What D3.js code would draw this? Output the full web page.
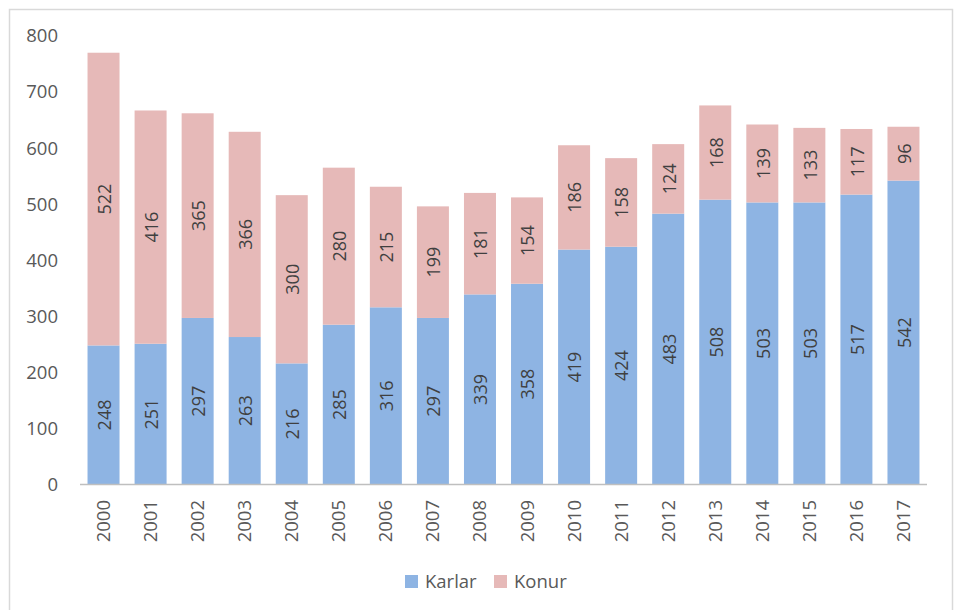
<!DOCTYPE html>
<html><head><meta charset="utf-8">
<script src="https://cdn.jsdelivr.net/npm/d3@7"></script>
<style>body{margin:0;background:#fff;}svg{display:block;font-family:"Open Sans",sans-serif;}</style>
</head><body>
<svg id="c" width="960" height="610"></svg>
<script>
const years = ["2000","2001","2002","2003","2004","2005","2006","2007","2008","2009","2010","2011","2012","2013","2014","2015","2016","2017"];
const karlar = [248,251,297,263,216,285,316,297,339,358,419,424,483,508,503,503,517,542];
const konur = [522,416,365,366,300,280,215,199,181,154,186,158,124,168,139,133,117,96];
const yTicks = [0,100,200,300,400,500,600,700,800];
const seriesNames = ["Karlar","Konur"];
const colors = ["#8EB4E3","#E6B9B8"];

const svg = d3.select("#c");
svg.append("rect").attr("x",9.5).attr("y",9.5).attr("width",943).attr("height",610)
  .attr("fill","none").attr("stroke","#d9d9d9").attr("stroke-width",1.5);

const x = d3.scaleBand().domain(years).range([80,927]).paddingInner(0.32).paddingOuter(0.16);
const y = d3.scaleLinear().domain([0,800]).range([484.5,35.9]);
const textColor = "#595959";

const data = years.map((yr,i)=>({year:yr, Karlar:karlar[i], Konur:konur[i]}));
const stack = d3.stack().keys(seriesNames)(data);

const g = svg.append("g");
stack.forEach((s,si)=>{
  g.selectAll(null).data(s).enter().append("rect")
    .attr("x",d=>x(d.data.year)).attr("width",x.bandwidth())
    .attr("y",d=>y(d[1])).attr("height",d=>y(d[0])-y(d[1]))
    .attr("fill",colors[si]);
  g.selectAll(null).data(s).enter().append("text")
    .attr("transform",d=>`translate(${x(d.data.year)+x.bandwidth()/2+1},${y((d[0]+d[1])/2)}) rotate(-90)`)
    .attr("text-anchor","middle").attr("dy","0.35em")
    .attr("font-size",18).attr("fill","#404040")
    .text(d=>d[1]-d[0]);
});

// baseline
svg.append("line").attr("x1",80).attr("x2",927).attr("y1",y(0)).attr("y2",y(0))
  .attr("stroke","#bfbfbf").attr("stroke-width",1.5);

// y axis labels
svg.append("g").selectAll("text").data(yTicks).enter().append("text")
  .attr("x",58).attr("y",d=>y(d)).attr("dy","0.35em").attr("text-anchor","end")
  .attr("font-size",18.5).attr("fill",textColor).text(d=>d);

// x labels
svg.append("g").selectAll("text").data(years).enter().append("text")
  .attr("transform",d=>`translate(${x(d)+x.bandwidth()/2},500) rotate(-90)`)
  .attr("text-anchor","end").attr("dy","0.35em")
  .attr("font-size",18.5).attr("fill",textColor).text(d=>d);

// legend
const legX = [405,494];
seriesNames.forEach((n,i)=>{
  svg.append("rect").attr("x",legX[i]).attr("y",575).attr("width",13).attr("height",13).attr("fill",colors[i]);
  svg.append("text").attr("x",legX[i]+20).attr("y",581.5).attr("dy","0.35em")
    .attr("font-size",18.5).attr("fill",textColor).text(n);
});
</script>
</body></html>
